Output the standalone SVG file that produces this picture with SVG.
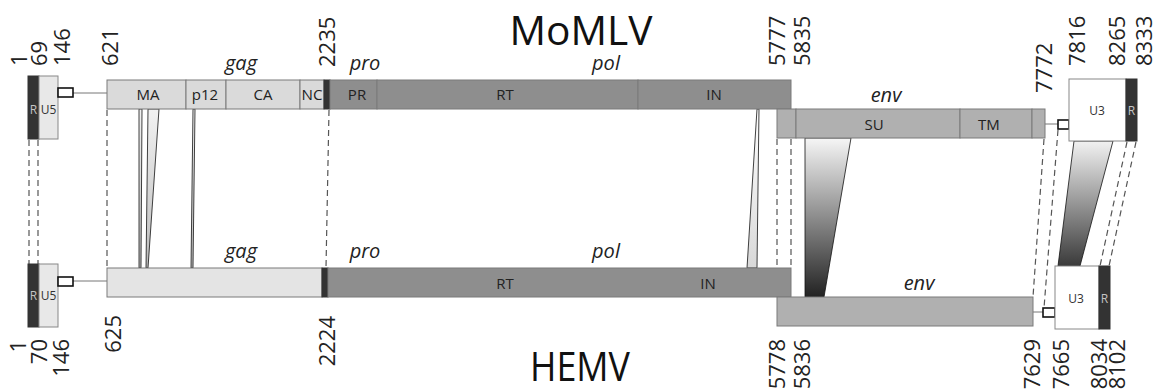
<svg xmlns="http://www.w3.org/2000/svg" width="1156" height="392" viewBox="0 0 1156 392">
<style>
.bar{stroke:#7a7a7a;stroke-width:1}
.gagT{fill:#dadada}
.gagB{fill:#e4e4e4}
.pol{fill:#8e8e8e}
.env{fill:#b0b0b0}
.ltr{fill:#333;stroke:#333;stroke-width:1}
.u5{fill:#e8e8e8;stroke:#888;stroke-width:1}
.u3{fill:#fff;stroke:#888;stroke-width:1}
.sm{fill:#fff;stroke:#111;stroke-width:1.6}
.cl{stroke:#777;stroke-width:1;fill:none}
.dash{stroke:#555;stroke-width:1.2;stroke-dasharray:6,4;fill:none}
.trap{stroke:#111;stroke-width:0.8}
.lab{font-family:"Open Sans","DejaVu Sans",sans-serif;font-size:15px;fill:#222;text-anchor:middle}
.tiny{font-family:"Open Sans","DejaVu Sans",sans-serif;font-size:12px;fill:#333;text-anchor:middle}
.rl{font-family:"Open Sans","DejaVu Sans",sans-serif;font-size:12px;fill:#c4c4c4;text-anchor:middle}
.it{font-family:"Open Sans","DejaVu Sans",sans-serif;font-size:20px;font-style:italic;fill:#222;text-anchor:middle}
.num{font-family:"Open Sans","DejaVu Sans",sans-serif;font-size:22px;fill:#222}
.ttl{font-family:"Open Sans","DejaVu Sans",sans-serif;font-size:40px;fill:#111;text-anchor:middle}
</style>
<defs>
<linearGradient id="gMA" x1="0" y1="0" x2="0" y2="1"><stop offset="0" stop-color="#f2f2f2"/><stop offset="1" stop-color="#bbb"/></linearGradient>
<linearGradient id="gIN" x1="0" y1="0" x2="0" y2="1"><stop offset="0" stop-color="#fff"/><stop offset="1" stop-color="#d8d8d8"/></linearGradient>
<linearGradient id="gSU" x1="0" y1="0" x2="0" y2="1"><stop offset="0" stop-color="#f6f6f6"/><stop offset="1" stop-color="#222"/></linearGradient>
<linearGradient id="gU3" x1="0" y1="0" x2="0" y2="1"><stop offset="0" stop-color="#f2f2f2"/><stop offset="1" stop-color="#3a3a3a"/></linearGradient>
</defs>

<g id="connectors">
<line class="dash" x1="29" y1="140" x2="29" y2="264"/>
<line class="dash" x1="38" y1="140" x2="38" y2="264"/>
<line class="dash" x1="107" y1="110" x2="107" y2="268"/>
<line class="dash" x1="329" y1="110" x2="326" y2="268"/>
<line class="dash" x1="777" y1="139" x2="777" y2="268"/>
<line class="dash" x1="791" y1="139" x2="791" y2="268"/>
<line class="dash" x1="1044" y1="139" x2="1033" y2="297"/>
<line class="dash" x1="1058" y1="130" x2="1044" y2="308"/>
<line class="dash" x1="1127" y1="142" x2="1100" y2="266"/>
<line class="dash" x1="1136" y1="142" x2="1109" y2="266"/>
<polygon class="trap" fill="url(#gMA)" points="139,109 142,109 141,268 139,268"/>
<polygon class="trap" fill="url(#gMA)" points="148,109 159,109 148,268 146,268"/>
<polygon class="trap" fill="url(#gMA)" points="193,109 195,109 193,268 191,268"/>
<polygon class="trap" fill="url(#gIN)" points="757,109 759,109 757,268 747,268"/>
<polygon class="trap" fill="url(#gSU)" points="805,138 851,138 824,297 805,297"/>
<polygon class="trap" fill="url(#gU3)" points="1074,141 1113,141 1080,266 1058,266"/>
<line class="cl" x1="73" y1="93" x2="107" y2="93"/>
<line class="cl" x1="73" y1="281" x2="107" y2="281"/>
<line class="cl" x1="1045" y1="124" x2="1058" y2="124"/>
<line class="cl" x1="1033" y1="312" x2="1043" y2="312"/>
</g>

<g id="momlv-ltr5">
<rect class="ltr" x="28" y="76" width="11" height="63"/>
<rect class="u5" x="39" y="76" width="19" height="63"/>
<text class="rl" x="33.5" y="114">R</text>
<text class="tiny" x="48.5" y="114">U5</text>
<rect class="sm" x="58" y="88" width="15" height="9"/>
</g>

<g id="momlv-gag">
<rect class="bar gagT" x="107" y="80" width="79" height="29"/>
<rect class="bar gagT" x="186" y="80" width="40" height="29"/>
<rect class="bar gagT" x="226" y="80" width="74" height="29"/>
<rect class="bar gagT" x="300" y="80" width="24" height="29"/>
<rect class="ltr" x="324" y="80" width="6" height="29"/>
<text class="lab" x="148" y="100">MA</text>
<text class="lab" x="205" y="100">p12</text>
<text class="lab" x="263" y="100">CA</text>
<text class="lab" x="312" y="100" textLength="21" lengthAdjust="spacingAndGlyphs">NC</text>
</g>

<g id="momlv-pol">
<rect class="bar pol" x="330" y="80" width="47" height="29"/>
<rect class="bar pol" x="377" y="80" width="261" height="29"/>
<rect class="bar pol" x="638" y="80" width="153" height="29"/>
<text class="lab" x="357" y="100">PR</text>
<text class="lab" x="505" y="100">RT</text>
<text class="lab" x="714" y="100">IN</text>
</g>

<g id="momlv-env">
<rect class="bar env" x="777" y="109" width="19" height="29"/>
<rect class="bar env" x="796" y="109" width="164" height="29"/>
<rect class="bar env" x="960" y="109" width="72" height="29"/>
<rect class="bar env" x="1032" y="109" width="13" height="29"/>
<text class="lab" x="874" y="130">SU</text>
<text class="lab" x="989" y="130">TM</text>
</g>

<g id="momlv-ltr3">
<rect class="sm" x="1058" y="120" width="11" height="9"/>
<rect class="u3" x="1069" y="79" width="57" height="62"/>
<rect class="ltr" x="1126" y="79" width="11" height="62"/>
<text class="tiny" x="1097" y="115">U3</text>
<text class="rl" x="1131.5" y="115">R</text>
</g>

<g id="hemv-ltr5">
<rect class="ltr" x="28" y="264" width="11" height="63"/>
<rect class="u5" x="39" y="264" width="19" height="63"/>
<text class="rl" x="33.5" y="300">R</text>
<text class="tiny" x="48.5" y="300">U5</text>
<rect class="sm" x="58" y="277" width="15" height="9"/>
</g>

<g id="hemv-gag">
<rect class="bar gagB" x="107" y="268" width="215" height="29"/>
<rect class="ltr" x="322" y="268" width="6" height="29"/>
</g>

<g id="hemv-pol">
<rect class="bar pol" x="328" y="268" width="463" height="29"/>
<text class="lab" x="505" y="289">RT</text>
<text class="lab" x="708" y="289">IN</text>
</g>

<g id="hemv-env">
<rect class="bar env" x="777" y="297" width="256" height="29"/>
</g>

<g id="hemv-ltr3">
<rect class="sm" x="1043" y="308" width="12" height="9"/>
<rect class="u3" x="1055" y="266" width="44" height="63"/>
<rect class="ltr" x="1099" y="266" width="11" height="63"/>
<text class="tiny" x="1076" y="303">U3</text>
<text class="rl" x="1104.5" y="303">R</text>
</g>

<g id="labels">
<text class="ttl" x="581" y="45" textLength="143" lengthAdjust="spacingAndGlyphs">MoMLV</text>
<text class="ttl" x="580" y="381" textLength="100" lengthAdjust="spacingAndGlyphs">HEMV</text>
<text class="it" x="241" y="70">gag</text>
<text class="it" x="365" y="70">pro</text>
<text class="it" x="606" y="70">pol</text>
<text class="it" x="886" y="102">env</text>
<text class="it" x="241" y="258">gag</text>
<text class="it" x="365" y="258">pro</text>
<text class="it" x="606" y="258">pol</text>
<text class="it" x="919" y="290">env</text>
</g>

<g id="numbers" class="num">
<text transform="translate(27,66) rotate(-90)">1</text>
<text transform="translate(47,66) rotate(-90)">69</text>
<text transform="translate(70,66) rotate(-90)">146</text>
<text transform="translate(118,66) rotate(-90)">621</text>
<text transform="translate(335,67) rotate(-90)">2235</text>
<text transform="translate(785,66) rotate(-90)">5777</text>
<text transform="translate(810,66) rotate(-90)">5835</text>
<text transform="translate(1052,93) rotate(-90)">7772</text>
<text transform="translate(1085,66) rotate(-90)">7816</text>
<text transform="translate(1125,66) rotate(-90)">8265</text>
<text transform="translate(1152,66) rotate(-90)">8333</text>
<text text-anchor="end" transform="translate(26,340) rotate(-90)">1</text>
<text text-anchor="end" transform="translate(47,339) rotate(-90)">70</text>
<text text-anchor="end" transform="translate(69,339) rotate(-90)">146</text>
<text text-anchor="end" transform="translate(121,315) rotate(-90)">625</text>
<text text-anchor="end" transform="translate(335,316) rotate(-90)">2224</text>
<text text-anchor="end" transform="translate(785,339) rotate(-90)">5778</text>
<text text-anchor="end" transform="translate(810,339) rotate(-90)">5836</text>
<text text-anchor="end" transform="translate(1040,339) rotate(-90)">7629</text>
<text text-anchor="end" transform="translate(1069,339) rotate(-90)">7665</text>
<text text-anchor="end" transform="translate(1107,339) rotate(-90)">8034</text>
<text text-anchor="end" transform="translate(1125,339) rotate(-90)">8102</text>
</g>
</svg>
